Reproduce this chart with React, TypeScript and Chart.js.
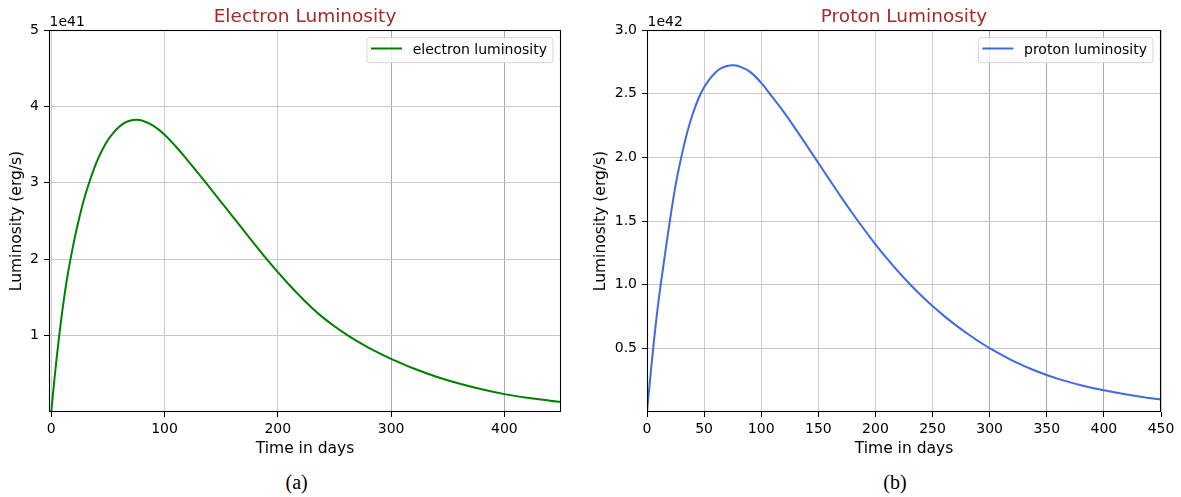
import React, { useEffect, useRef } from "react";
import { Chart, registerables } from "chart.js";

Chart.register(...registerables);

// ---------- data ----------
const days = [
  0, 2, 4, 6, 8, 10, 12, 15, 20, 25, 30, 35, 40, 45, 50, 55, 60, 65, 70, 75, 80,
  90, 100, 110, 120, 130, 140, 150, 160, 170, 180, 190, 200, 210, 220, 230, 240,
  250, 260, 270, 280, 290, 300, 320, 340, 360, 380, 400, 420, 440, 450,
];

// electron luminosity, units of 1e41 erg/s
const electronLum = [
  0, 0.31, 0.6, 0.87, 1.12, 1.35, 1.56, 1.84, 2.23, 2.56, 2.84, 3.07, 3.27, 3.43,
  3.56, 3.658, 3.733, 3.787, 3.815, 3.825, 3.816, 3.748, 3.63, 3.475, 3.3, 3.12,
  2.935, 2.748, 2.561, 2.374, 2.187, 2.003, 1.83, 1.665, 1.51, 1.365, 1.235,
  1.122, 1.02, 0.928, 0.844, 0.767, 0.696, 0.569, 0.462, 0.372, 0.297, 0.234,
  0.186, 0.148, 0.132,
];

// proton luminosity, units of 1e42 erg/s
const protonLum = [
  0, 0.19, 0.375, 0.55, 0.715, 0.865, 1.0, 1.19, 1.5, 1.78, 2.0, 2.19, 2.34, 2.46,
  2.55, 2.617, 2.667, 2.7, 2.718, 2.723, 2.717, 2.673, 2.585, 2.47, 2.353, 2.224,
  2.091, 1.956, 1.821, 1.688, 1.559, 1.435, 1.317, 1.206, 1.102, 1.005, 0.915,
  0.832, 0.755, 0.684, 0.618, 0.557, 0.501, 0.404, 0.324, 0.26, 0.21, 0.17,
  0.137, 0.11, 0.098,
];

const electronXTicks = [0, 100, 200, 300, 400];
const electronYTicks = [1, 2, 3, 4, 5];
const protonXTicks = [0, 50, 100, 150, 200, 250, 300, 350, 400, 450];
const protonYTicks = [0.5, 1.0, 1.5, 2.0, 2.5, 3.0];
const electronDarkGrid = [300, 400];
const protonDarkGrid = [300, 350, 400];

const FONT = "'DejaVu Sans', sans-serif";
Chart.defaults.font.family = FONT;
Chart.defaults.color = "#000";

// ---------- decoration plugin (frame, title, offset text, legend) ----------
const decorPlugin = {
  id: "decor",
  afterDatasetsDraw(chart: any, _args: any, opts: any) {
    const { ctx, chartArea: a } = chart;
    ctx.save();
    // frame (spines)
    ctx.strokeStyle = "#000";
    ctx.lineWidth = 1.1;
    ctx.strokeRect(a.left + 0.5, a.top + 0.5, a.right - a.left - 1, a.bottom - a.top - 1);

    // title
    ctx.fillStyle = "#a52a2a";
    ctx.font = `18.5px ${FONT}`;
    ctx.textAlign = "center";
    ctx.textBaseline = "alphabetic";
    ctx.fillText(opts.title, (a.left + a.right) / 2, 22);

    // offset text
    ctx.fillStyle = "#000";
    ctx.font = `14px ${FONT}`;
    ctx.textAlign = "left";
    ctx.fillText(opts.offset, a.left + 0.5, 26);

    // legend
    const ds = chart.data.datasets[0];
    ctx.font = `14px ${FONT}`;
    const tw = ctx.measureText(ds.label).width;
    const boxW = 4 + 31 + 10.7 + tw + 6;
    const boxH = 25;
    const bx = a.right - 8 - boxW;
    const by = a.top + 7.7;
    ctx.beginPath();
    ctx.roundRect(bx, by, boxW, boxH, 3);
    ctx.fillStyle = "rgba(255,255,255,0.8)";
    ctx.fill();
    ctx.strokeStyle = "#d6d6d6";
    ctx.lineWidth = 1;
    ctx.stroke();
    ctx.beginPath();
    ctx.moveTo(bx + 4, by + 10.8);
    ctx.lineTo(bx + 35, by + 10.8);
    ctx.strokeStyle = ds.borderColor;
    ctx.lineWidth = 2;
    ctx.stroke();
    ctx.fillStyle = "#000";
    ctx.textAlign = "left";
    ctx.textBaseline = "alphabetic";
    ctx.fillText(ds.label, bx + 45.7, by + 16.3);
    ctx.restore();
  },
};

interface PanelProps {
  values: number[];
  label: string;
  color: string;
  title: string;
  offset: string;
  xMin: number;
  xTicks: number[];
  yMax: number;
  yTicks: number[];
  yDecimals: number;
  darkGrid: number[];
  yAxisWidth: number;
  yTitlePad: number;
  rightPad: number;
  width: number;
  left: number;
}

function Panel(p: PanelProps) {
  const ref = useRef<HTMLCanvasElement | null>(null);
  useEffect(() => {
    if (!ref.current) return;
    const chart = new Chart(ref.current, {
      type: "line",
      data: {
        datasets: [
          {
            label: p.label,
            data: days.map((d, i) => ({ x: d, y: p.values[i] })),
            borderColor: p.color,
            backgroundColor: p.color,
            borderWidth: 2,
            pointRadius: 0,
            tension: 0.4,
            fill: false,
          },
        ],
      },
      options: {
        animation: false,
        responsive: false,
        maintainAspectRatio: false,
        devicePixelRatio: 1,
        layout: { padding: { top: 30, left: 0, right: p.rightPad, bottom: 0 } },
        plugins: {
          legend: { display: false },
          tooltip: { enabled: false },
          title: { display: false },
          decor: { title: p.title, offset: p.offset },
        } as any,
        scales: {
          x: {
            type: "linear",
            min: p.xMin,
            max: 450,
            afterBuildTicks: (s: any) => {
              s.ticks = p.xTicks.map((v) => ({ value: v }));
            },
            afterFit: (s: any) => {
              s.height = 48;
            },
            grid: {
              color: (c: any) =>
                c.tick && p.darkGrid.includes(c.tick.value) ? "#a9a9a9" : "#cdcdcd",
              lineWidth: 1,
              tickColor: "#000",
              tickLength: 5,
              tickWidth: 1,
            },
            border: { display: false },
            ticks: {
              padding: 4,
              font: { size: 14 },
              color: "#000",
              maxRotation: 0,
              autoSkip: false,
              callback: (v: any) => String(v),
            },
            title: {
              display: true,
              text: "Time in days",
              font: { size: 15.5 },
              color: "#000",
              padding: { top: 0, bottom: 2 },
            },
          },
          y: {
            type: "linear",
            min: 0,
            max: p.yMax,
            afterBuildTicks: (s: any) => {
              s.ticks = p.yTicks.map((v) => ({ value: v }));
            },
            afterFit: (s: any) => {
              s.width = p.yAxisWidth;
            },
            grid: {
              color: "#c8c8c8",
              lineWidth: 1,
              tickColor: "#000",
              tickLength: 5,
              tickWidth: 1,
            },
            border: { display: false },
            ticks: {
              padding: 5,
              font: { size: 14 },
              color: "#000",
              autoSkip: false,
              callback: (v: any) => Number(v).toFixed(p.yDecimals),
            },
            title: {
              display: true,
              text: "Luminosity (erg/s)",
              font: { size: 15.5 },
              color: "#000",
              padding: { top: p.yTitlePad, bottom: 0 },
            },
          },
        },
      },
      plugins: [decorPlugin as any],
    });
    return () => chart.destroy();
  }, []);
  return (
    <canvas
      ref={ref}
      width={p.width}
      height={460}
      style={{ position: "absolute", left: p.left, top: 0, width: p.width, height: 460 }}
    />
  );
}

export default function App() {
  const caption: React.CSSProperties = {
    position: "absolute",
    width: 100,
    textAlign: "center",
    fontFamily: "'Liberation Serif', serif",
    fontSize: 20,
    lineHeight: "20px",
    top: 472,
    color: "#000",
  };
  return (
    <div
      style={{
        position: "fixed",
        left: 0,
        top: 0,
        width: 1181,
        height: 497,
        background: "#fff",
        overflow: "hidden",
      }}
    >
      <Panel
        values={electronLum}
        label="electron luminosity"
        color="#008000"
        title="Electron Luminosity"
        offset="1e41"
        xMin={-2}
        xTicks={electronXTicks}
        yMax={5}
        yTicks={electronYTicks}
        yDecimals={0}
        darkGrid={electronDarkGrid}
        yAxisWidth={49}
        yTitlePad={7.4}
        rightPad={24}
        width={585}
        left={0}
      />
      <Panel
        values={protonLum}
        label="proton luminosity"
        color="#4169e1"
        title="Proton Luminosity"
        offset="1e42"
        xMin={0}
        xTicks={protonXTicks}
        yMax={3}
        yTicks={protonYTicks}
        yDecimals={1}
        darkGrid={protonDarkGrid}
        yAxisWidth={62}
        yTitlePad={6.4}
        rightPad={20}
        width={596}
        left={585}
      />
      <div style={{ ...caption, left: 246.7 }}>(a)</div>
      <div style={{ ...caption, left: 845 }}>(b)</div>
    </div>
  );
}
